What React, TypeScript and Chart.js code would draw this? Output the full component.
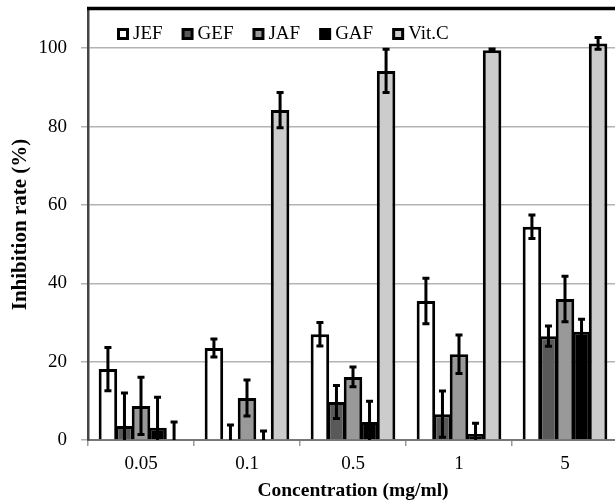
import React, { useEffect, useRef } from "react";
import { Chart, registerables } from "chart.js";

Chart.register(...registerables);

const categories = ["0.05", "0.1", "0.5", "1", "5"];
const seriesNames = ["JEF", "GEF", "JAF", "GAF", "Vit.C"];
const jefValues = [18.1, 23.5, 27.0, 35.5, 54.4];
const gefValues = [3.6, 0, 9.7, 6.6, 26.5];
const jafValues = [8.7, 10.7, 16.1, 21.9, 36.0];
const gafValues = [3.1, 0, 4.6, 1.5, 27.6];
const vitcValues = [0, 84.2, 94.2, 99.5, 101.2];
const jefErrors = [5.5, 2.3, 3.0, 5.8, 3.0];
const gefErrors = [8.4, 3.8, 4.2, 5.9, 2.6];
const jafErrors = [7.3, 4.6, 2.5, 4.9, 5.8];
const gafErrors = [7.8, 2.3, 5.3, 2.8, 3.2];
const vitcErrors = [4.6, 4.5, 5.5, 0.3, 1.5];
const yTicks = [0, 20, 40, 60, 80, 100];

const fills = ["#ffffff", "#595959", "#999999", "#000000", "#cccccc"];
const allValues = [jefValues, gefValues, jafValues, gafValues, vitcValues];
const allErrors = [jefErrors, gefErrors, jafErrors, gafErrors, vitcErrors];

const SERIF = "'Liberation Serif', 'DejaVu Serif', serif";

const errorBarPlugin = {
  id: "errorBars",
  afterDatasetsDraw(chart: any) {
    const ctx = chart.ctx;
    const y = chart.scales.y;
    ctx.save();
    ctx.strokeStyle = "#000";
    ctx.lineWidth = 3;
    chart.data.datasets.forEach((ds: any, di: number) => {
      const meta = chart.getDatasetMeta(di);
      meta.data.forEach((bar: any, i: number) => {
        const v = ds.data[i];
        const e = ds.errors[i];
        const top = y.getPixelForValue(v + e);
        const lowV = Math.max(0, v - e);
        const bot = y.getPixelForValue(lowV);
        const x = bar.x;
        const cap = 3.5;
        ctx.beginPath();
        ctx.moveTo(x, top);
        ctx.lineTo(x, bot);
        ctx.moveTo(x - cap, top);
        ctx.lineTo(x + cap, top);
        if (lowV > 0) {
          ctx.moveTo(x - cap, bot);
          ctx.lineTo(x + cap, bot);
        }
        ctx.stroke();
      });
    });
    ctx.restore();
  },
};

const framePlugin = {
  id: "frameLegend",
  afterDraw(chart: any) {
    const ctx = chart.ctx;
    const area = chart.chartArea;
    ctx.save();
    ctx.strokeStyle = "#000";
    ctx.lineWidth = 3.5;
    ctx.beginPath();
    ctx.moveTo(area.left - 1, area.top - 0.5);
    ctx.lineTo(chart.width, area.top - 0.5);
    ctx.stroke();
    ctx.font = "19px " + SERIF;
    ctx.textBaseline = "middle";
    ctx.textAlign = "left";
    let x = 117;
    const cy = 34;
    chart.data.datasets.forEach((ds: any) => {
      ctx.fillStyle = ds.backgroundColor;
      ctx.fillRect(x + 1.5, cy - 4.5, 9, 9);
      ctx.strokeStyle = "#000";
      ctx.lineWidth = 3;
      ctx.strokeRect(x + 1.5, cy - 4.5, 9, 9);
      ctx.fillStyle = "#000";
      const tx = x + 16;
      ctx.fillText(ds.label, tx, cy);
      x = tx + ctx.measureText(ds.label).width + 19;
    });
    ctx.restore();
  },
};

export default function App() {
  const ref = useRef<HTMLCanvasElement>(null);
  useEffect(() => {
    if (!ref.current) return;
    const chart = new Chart(ref.current, {
      type: "bar",
      data: {
        labels: categories,
        datasets: seriesNames.map((name, i) => ({
          label: name,
          data: allValues[i],
          errors: allErrors[i],
          backgroundColor: fills[i],
          borderColor: "#000",
          borderWidth: 3,
          categoryPercentage: 0.78,
          barPercentage: 1.12,
        })) as any,
      },
      options: {
        responsive: false,
        animation: false,
        layout: { padding: { top: 9, left: 0, right: 0, bottom: 0 } },
        plugins: {
          legend: { display: false },
          tooltip: { enabled: false },
        },
        scales: {
          x: {
            grid: {
              display: true,
              drawOnChartArea: false,
              drawTicks: true,
              tickLength: 6,
              color: "#999",
              lineWidth: 1.5,
              offset: true,
            },
            border: { color: "#777", width: 2 },
            ticks: {
              color: "#000",
              font: { family: SERIF, size: 19 },
              padding: 7,
            },
            title: {
              display: true,
              text: "Concentration (mg/ml)",
              color: "#000",
              font: { family: SERIF, size: 19.5, weight: "bold" },
              padding: { top: 0, bottom: 0 },
            },
            afterFit: (s: any) => {
              s.height = 63;
            },
          } as any,
          y: {
            min: 0,
            max: 110,
            afterBuildTicks: (s: any) => {
              s.ticks = yTicks.map((v) => ({ value: v }));
            },
            grid: {
              color: "#b3b3b3",
              lineWidth: 1.5,
              tickLength: 7,
            },
            border: { color: "#444", width: 2.5 },
            ticks: {
              color: "#000",
              font: { family: SERIF, size: 19 },
              padding: 14,
            },
            title: {
              display: true,
              text: "Inhibition rate (%)",
              color: "#000",
              font: { family: SERIF, size: 21, weight: "bold" },
              padding: { top: 8, bottom: 0 },
            },
            afterFit: (s: any) => {
              s.width = 88;
              s.paddingTop = 0;
              s.paddingBottom = 0;
            },
          } as any,
        },
      },
      plugins: [errorBarPlugin, framePlugin],
    });
    return () => chart.destroy();
  }, []);
  return (
    <div
      style={{
        position: "fixed",
        left: 0,
        top: 0,
        width: 615,
        height: 503,
        overflow: "hidden",
        background: "#fff",
      }}
    >
      <canvas ref={ref} width={618} height={503} style={{ display: "block" }} />
    </div>
  );
}
